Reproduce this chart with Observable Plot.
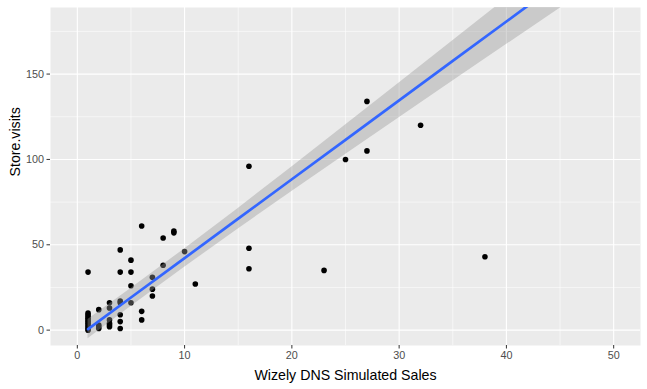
<!DOCTYPE html>
<html>
<head>
<meta charset="utf-8">
<script src="https://cdn.jsdelivr.net/npm/d3@7"></script>
<script src="https://cdn.jsdelivr.net/npm/@observablehq/plot@0.6"></script>
<style>
  html, body { margin: 0; padding: 0; background: #ffffff; }
  #chart svg { display: block; }
</style>
</head>
<body>
<div id="chart"></div>
<script>
// Observed points: simulated sales (x) and store visits (y)
const sales = [
  1,1,1,1,1,1,1,1,1,1,1,1,
  2,2,2,2,
  3,3,3,3,3,3,
  4,4,4,4,4,4,4,
  5,5,5,5,
  6,6,6,
  7,7,7,
  8,8,
  9,9,
  10,
  11,
  16,16,16,
  23,
  25,
  27,27,
  32,
  38
];
const visits = [
  0,1,2,3,4,5,6,7,8,9,10,34,
  12,1,2,3,
  16,13,6,4,3,2,
  47,34,17,16,9,5,1,
  41,34,26,16,
  61,11,6,
  31,24,20,
  54,38,
  58,57,
  46,
  27,
  96,48,36,
  35,
  100,
  134,105,
  120,
  43
];

// Smoother (linear fit)
const fitX  = [1, 5, 10, 15, 20, 25, 30, 35, 40, 45, 50];
const fitY  = [0.6, 19.1, 42.2, 65.3, 88.4, 111.5, 134.6, 157.7, 180.8, 203.9, 227.0];
const fitLo = [-5.1, 13.8, 36.8, 59.3, 81.2, 102.9, 124.4, 145.9, 167.3, 188.6, 209.9];
const fitHi = [6.3, 24.4, 47.6, 71.3, 95.6, 120.1, 144.8, 169.5, 194.3, 219.2, 244.1];

const xTicks = [0, 10, 20, 30, 40, 50];
const xMinor = [5, 15, 25, 35, 45];
const yTicks = [0, 50, 100, 150];
const yMinor = [25, 75, 125, 175];

const points = sales.map((x, i) => ({x, y: visits[i]}));
const fit = fitX.map((x, i) => ({x, y: fitY[i], lo: fitLo[i], hi: fitHi[i]}));

const font = "'Liberation Sans', Arial, Helvetica, sans-serif";

const chart = Plot.plot({
  width: 647,
  height: 389,
  marginLeft: 50,
  marginRight: 7,
  marginTop: 7,
  marginBottom: 44,
  style: {fontFamily: font, background: "#ffffff", overflow: "visible"},
  x: {domain: [-2.5, 52.5], label: null},
  y: {domain: [-9, 189], label: null},
  marks: [
    Plot.frame({fill: "#EBEBEB", stroke: null}),
    Plot.gridX(xMinor, {stroke: "#ffffff", strokeOpacity: 1, strokeWidth: 0.55}),
    Plot.gridY(yMinor, {stroke: "#ffffff", strokeOpacity: 1, strokeWidth: 0.55}),
    Plot.gridX(xTicks, {stroke: "#ffffff", strokeOpacity: 1, strokeWidth: 1.1}),
    Plot.gridY(yTicks, {stroke: "#ffffff", strokeOpacity: 1, strokeWidth: 1.1}),
    Plot.dot(points, {x: "x", y: "y", r: 2.8, fill: "#000000", stroke: null}),
    Plot.areaY(fit, {x: "x", y1: "lo", y2: "hi", fill: "#999999", fillOpacity: 0.4, clip: true}),
    Plot.line(fit, {x: "x", y: "y", stroke: "#3366FF", strokeWidth: 2.7, clip: true}),
    Plot.axisX(xTicks, {tickSize: 3.5, tickPadding: 2, stroke: "#333333", fill: "#4D4D4D", fontSize: 10.8, label: null}),
    Plot.axisY(yTicks, {tickSize: 3.5, tickPadding: 3, stroke: "#333333", fill: "#4D4D4D", fontSize: 10.8, label: null}),
    Plot.text(["Wizely DNS Simulated Sales"], {frameAnchor: "bottom", dy: 30, text: d => d, fontSize: 14.2, fill: "#000000", lineAnchor: "middle"}),
    Plot.text(["Store.visits"], {frameAnchor: "left", dx: -35, rotate: -90, text: d => d, fontSize: 14.2, fill: "#000000", lineAnchor: "middle"})
  ]
});

document.getElementById("chart").appendChild(chart);
</script>
</body>
</html>
